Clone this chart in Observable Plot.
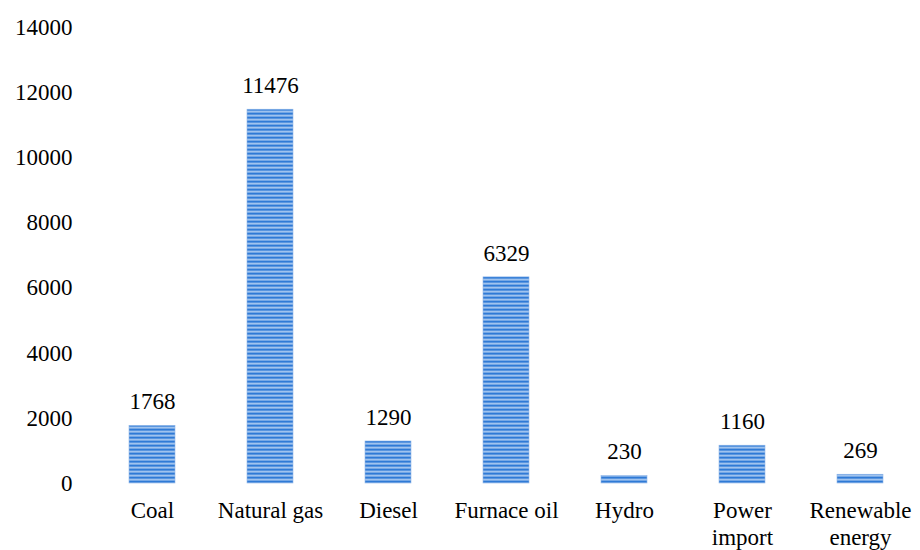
<!DOCTYPE html>
<html>
<head>
<meta charset="utf-8">
<script src="https://cdn.jsdelivr.net/npm/d3@7"></script>
<script src="https://cdn.jsdelivr.net/npm/@observablehq/plot@0.6"></script>
<style>
  html, body { margin: 0; padding: 0; background: #fff; }
</style>
</head>
<body>
<div id="chart"></div>
<script>
const categories = ["Coal", "Natural gas", "Diesel", "Furnace oil", "Hydro", "Power import", "Renewable energy"];
const tickLabels = ["Coal", "Natural gas", "Diesel", "Furnace oil", "Hydro", "Power\nimport", "Renewable\nenergy"];
const values = [1768, 11476, 1290, 6329, 230, 1160, 269];
const yTicks = [0, 2000, 4000, 6000, 8000, 10000, 12000, 14000];

const data = categories.map((c, i) => ({category: c, value: values[i]}));
const labelOf = new Map(categories.map((c, i) => [c, tickLabels[i]]));
const FONT = "'Liberation Serif', 'Times New Roman', 'DejaVu Serif', serif";

const defs = () => {
  const ns = "http://www.w3.org/2000/svg";
  const d = document.createElementNS(ns, "defs");
  d.innerHTML = `
    <pattern id="stripes" patternUnits="userSpaceOnUse" width="10" height="4" y="0.5">
      <rect x="0" y="0" width="10" height="4" fill="#2f7ad6"></rect>
      <rect x="0" y="2.4" width="10" height="1.6" fill="#bcd5f4"></rect>
    </pattern>`;
  return d;
};

const chart = Plot.plot({
  width: 920,
  height: 550,
  marginTop: 27,
  marginBottom: 67,
  marginLeft: 92,
  marginRight: 0,
  style: {fontSize: "23px", color: "#000", background: "#fff"},
  x: {domain: categories, range: [90.5, 922.5], paddingInner: 0.61, paddingOuter: 0.305, label: null},
  y: {domain: [0, 14000], label: null},
  marks: [
    defs,
    Plot.barY(data, {x: "category", y: "value", fill: "url(#stripes)", stroke: "#8fb6e8", strokeWidth: 0.6}),
    Plot.ruleY([0], {x1: 92, x2: 920, stroke: "#bfbfbf", strokeWidth: 3}),
    Plot.text(data, {x: "category", y: "value", text: d => String(d.value), dy: -24, fill: "#000", fontSize: 23, fontFamily: FONT}),
    Plot.axisY({ticks: yTicks, tickSize: 0, tickPadding: 20, tickFormat: d => String(d), fontSize: 23, fontFamily: FONT, label: null}),
    Plot.axisX({tickSize: 0, tickPadding: 16, tickFormat: d => labelOf.get(d), fontSize: 23, fontFamily: FONT, lineHeight: 1.15, label: null})
  ]
});
chart.setAttribute("font-family", FONT);
chart.style.fontFamily = FONT;
chart.querySelectorAll("text, tspan, g").forEach(t => t.style.fontFamily = FONT);
document.getElementById("chart").appendChild(chart);
</script>
</body>
</html>
